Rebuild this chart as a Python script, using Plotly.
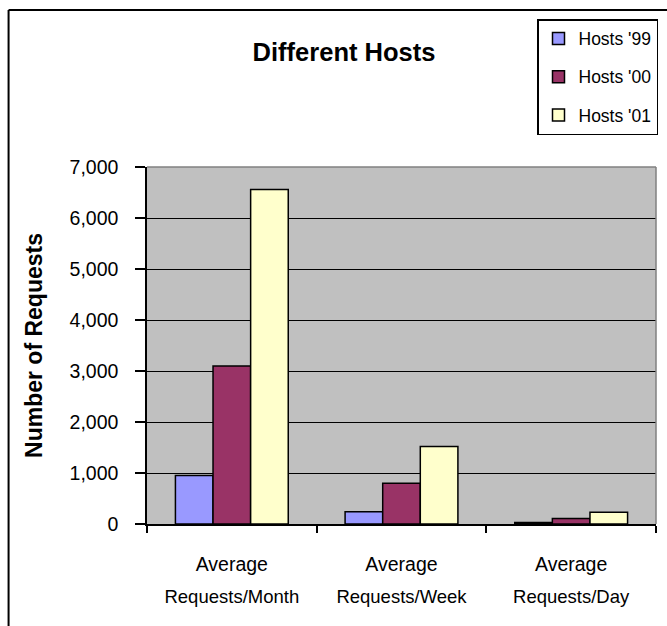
import plotly.graph_objects as go

categories = ["Average Requests/Month", "Average Requests/Week", "Average Requests/Day"]
label_line1 = ["Average", "Average", "Average"]
label_line2 = ["Requests/Month", "Requests/Week", "Requests/Day"]
series_names = ["Hosts '99", "Hosts '00", "Hosts '01"]
hosts_99 = [950, 240, 30]
hosts_00 = [3100, 800, 110]
hosts_01 = [6560, 1520, 230]
y_ticks = [0, 1000, 2000, 3000, 4000, 5000, 6000, 7000]

colors = ["#9999FF", "#993366", "#FFFFCC"]
FONT = "Liberation Sans, Arial, sans-serif"

fig = go.Figure()
for name, vals, col in zip(series_names, [hosts_99, hosts_00, hosts_01], colors):
    fig.add_trace(go.Bar(
        x=categories, y=vals, name=name, legendgroup=name,
        marker=dict(color=col, line=dict(color="black", width=1.5)),
    ))
# empty helper trace so the second-line label axis is rendered
fig.add_trace(go.Scatter(x=[None], y=[None], xaxis="x2", yaxis="y",
                         showlegend=False, hoverinfo="skip", mode="markers"))

fig.update_layout(
    width=667, height=626,
    paper_bgcolor="white", plot_bgcolor="#C0C0C0",
    margin=dict(l=147, r=10, t=167, b=102),
    font=dict(family=FONT, size=19.5, color="black"),
    barmode="group", bargap=0.335, bargroupgap=0.0,
    title=dict(text="<b>Different Hosts</b>", x=344/667, xanchor="center",
               y=1-52/626, yanchor="middle", font=dict(size=25.5, family=FONT)),
    legend=dict(x=(658-147)/510, y=(524-19)/357, xanchor="right", yanchor="top",
                bgcolor="white", bordercolor="black", borderwidth=1.5,
                traceorder="grouped", tracegroupgap=12.5,
                font=dict(size=17.5, family=FONT)),
    xaxis=dict(
        type="category", showline=True, linecolor="black", linewidth=1.5,
        ticks="outside", tickson="boundaries", ticklen=7, tickcolor="black", tickwidth=1.5,
        tickvals=categories, ticktext=label_line1, showgrid=False,
        ticklabelstandoff=22,
    ),
    xaxis2=dict(
        overlaying="x", anchor="y", side="bottom", range=[-0.5, 2.5],
        tickvals=[0, 1, 2], ticktext=label_line2, showgrid=False, showline=False,
        ticks="", zeroline=False, ticklabelstandoff=59,
        tickfont=dict(size=18.5, family=FONT),
    ),
    yaxis=dict(
        range=[0, 7000], tickvals=y_ticks, tickformat=",",
        showline=True, linecolor="black", linewidth=1.5,
        ticks="outside", ticklen=10, tickcolor="black", tickwidth=1.5,
        showgrid=True, gridcolor="black", gridwidth=1.2, zeroline=False,
        ticklabelstandoff=13,
        title=dict(text="<b>Number of Requests</b>", font=dict(size=23, family=FONT), standoff=20),
    ),
    shapes=[
        dict(type="line", xref="paper", yref="paper", x0=(8.3-147)/510, x1=(8.3-147)/510,
             y0=-0.4, y1=(524-10)/357, line=dict(color="black", width=2)),
        dict(type="line", xref="paper", yref="paper", x0=(8.3-147)/510, x1=1.1,
             y0=(524-10)/357, y1=(524-10)/357, line=dict(color="black", width=2)),
        dict(type="line", xref="paper", yref="paper", x0=1, x1=1, y0=0, y1=1,
             line=dict(color="#808080", width=1.5), layer="above"),
        dict(type="line", xref="paper", yref="paper", x0=0, x1=1, y0=1, y1=1,
             line=dict(color="#808080", width=1.5), layer="above"),
    ],
)

fig.write_html("out.html", config={"displayModeBar": False},
               post_script="document.body.style.margin='0';")
